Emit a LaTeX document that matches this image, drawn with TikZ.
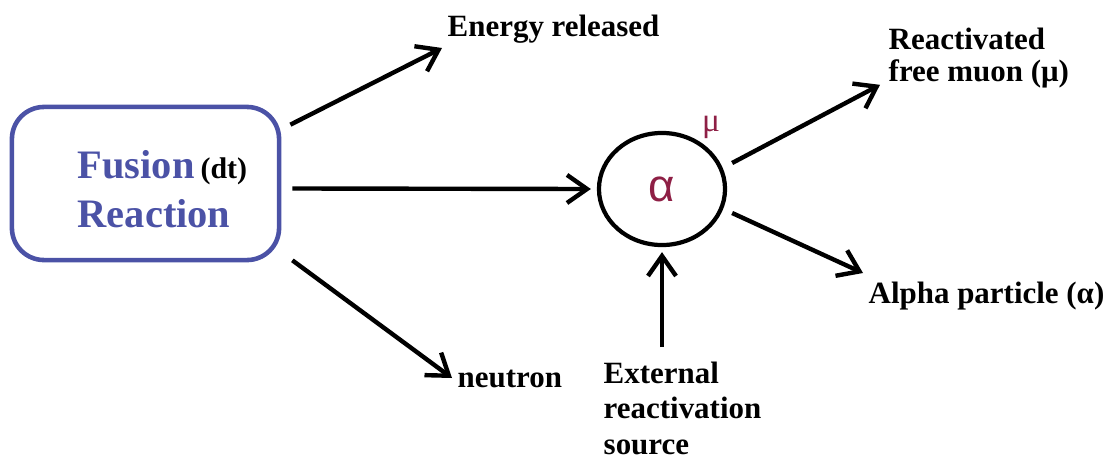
\documentclass[tikz,border=0pt]{standalone}
\usepackage{fontspec}
\setmainfont{Liberation Serif}
\newfontfamily\greeksans{Liberation Sans}
\usepackage{xcolor}
\definecolor{fblue}{HTML}{4B52A6}
\definecolor{mred}{HTML}{8E1F45}
\usetikzlibrary{arrows.meta,calc,shapes.geometric}

\begin{document}
\begin{tikzpicture}[
  x=0.01cm,y=0.01cm,
  font=\fontsize{8.8}{9.2}\selectfont\bfseries,
  lbl/.style={inner sep=0pt,align=left},
  fusionbox/.style={rectangle,rounded corners=0.32cm,draw=fblue,line width=1.3pt,minimum width=2.67cm,minimum height=1.53cm},
  muonic/.style={ellipse,draw,line width=1.2pt,minimum width=1.26cm,minimum height=1.12cm,inner sep=0pt},
  arr/.style={-{Straight Barb[length=2mm,width=2.8mm]},line width=1.25pt}
]
\useasboundingbox (0,0) rectangle (1103,460);
% reaction box
\node[fusionbox] (fusion) at (145.5,276.5) {};
\node[lbl,anchor=west,text=fblue,font=\fontsize{11.5}{14}\selectfont\bfseries] (fusiontxt) at (77,271)
  {Fusion\hspace{0.15em}{\color{black}\fontsize{8.5}{10}\selectfont(dt)}\\Reaction};
% muonic atom
\node[muonic] (alpha) at (662,271) {\greeksans\fontsize{13}{13}\selectfont\mdseries\color{mred}α};
\node[text=mred,font=\fontsize{9.5}{10}\selectfont,inner sep=0pt] (mu) at (711,333) {μ};
% products
\node[lbl,anchor=base west] (energy) at (447,424) {Energy released};
\node[lbl,anchor=base west] (neutron) at (457,73) {neutron};
\node[lbl,anchor=north west] (freemuon) at (888,433) {Reactivated\\free muon (μ)};
\node[lbl,anchor=base west] (alphap) at (868,157) {Alpha particle (α)};
\node[lbl,anchor=north west,font=\fontsize{8.8}{10.1}\selectfont\bfseries] (source) at (603,99) {External\\reactivation\\source};
% arrows
\draw[arr] ($(fusion.north east)+(9,-20)$) -- ($(energy.base west)+(-5,-12)$);
\draw[arr] ($(fusion.east)+(11,-5)$) -- ($(alpha.west)+(-6,0)$);
\draw[arr] ($(fusion.south east)+(11,2)$) -- ($(neutron.base west)+(-5,9)$);
\draw[arr] ($(alpha.east)+(5,26)$) -- ($(freemuon.south west)+(-8,4)$);
\draw[arr] ($(alpha.east)+(5,-24)$) -- ($(alphap.base west)+(-5,30)$);
\draw[arr] ($(alpha.south |- source.north)+(0,14)$) -- ($(alpha.south)+(0,-5)$);
\end{tikzpicture}
\end{document}
